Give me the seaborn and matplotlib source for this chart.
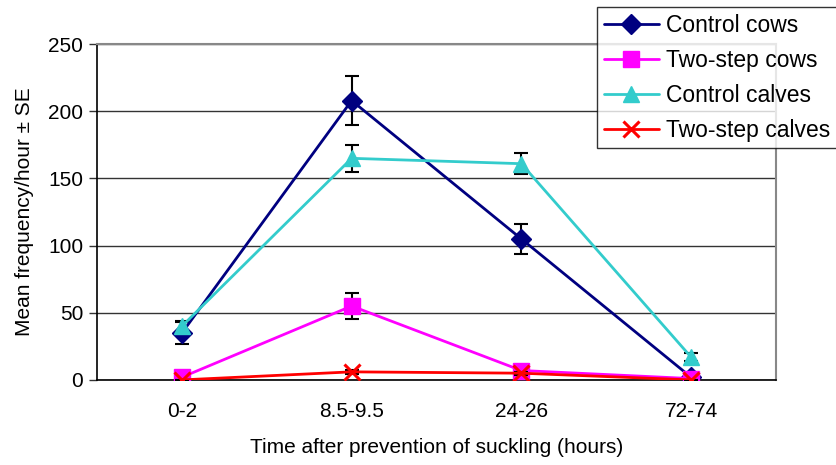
import matplotlib.pyplot as plt
import seaborn as sns
import pandas as pd

# Data
times = ["0-2", "8.5-9.5", "24-26", "72-74"]
series_names = ["Control cows", "Two-step cows", "Control calves", "Two-step calves"]
control_cows = [35, 208, 105, 2]
control_cows_se = [8, 18, 11, 1]
twostep_cows = [2, 55, 7, 1]
twostep_cows_se = [1, 10, 2, 0.5]
control_calves = [40, 165, 161, 17]
control_calves_se = [4, 10, 8, 3]
twostep_calves = [0, 6, 5, 0]
twostep_calves_se = [0.3, 1.5, 1, 0.2]

values = [control_cows, twostep_cows, control_calves, twostep_calves]
errors = [control_cows_se, twostep_cows_se, control_calves_se, twostep_calves_se]

df = pd.DataFrame({
    "time": times * 4,
    "series": [s for s in series_names for _ in times],
    "value": [v for vals in values for v in vals],
})

colors = ["#000080", "#FF00FF", "#33CCCC", "#FF0000"]
markers = ["D", "s", "^", "x"]
msizes = [10, 11, 12, 11]

sns.set_theme(style="white")
plt.rcParams['font.family'] = ['Liberation Sans', 'DejaVu Sans']
plt.rcParams['text.color'] = 'black'
plt.rcParams['axes.labelcolor'] = 'black'
plt.rcParams['xtick.color'] = 'black'
plt.rcParams['ytick.color'] = 'black'

fig = plt.figure(figsize=(8.37, 4.65), dpi=100)
ax = fig.add_axes([0.116, 0.183, 0.811, 0.722])

for i, name in enumerate(series_names):
    sub = df[df["series"] == name]
    ax.errorbar(sub["time"], sub["value"], yerr=errors[i], fmt="none",
                ecolor="black", elinewidth=1.5, capsize=5, capthick=1.5, zorder=2 + i)
    mk = markers[i]
    sns.lineplot(data=sub, x="time", y="value", ax=ax, color=colors[i],
                 marker=mk, markersize=msizes[i], markeredgecolor=colors[i],
                 markeredgewidth=2.2 if mk == "x" else 1, linewidth=2,
                 label=name, sort=False, zorder=2.5 + i)

ax.set_xlim(-0.5, 3.5)
ax.set_ylim(0, 250)
ax.set_yticks([0, 50, 100, 150, 200, 250])
ax.yaxis.grid(True, color="#333333", linewidth=1)
ax.set_axisbelow(True)

# category boundary ticks on x
ax.set_xticks([-0.5, 0.5, 1.5, 2.5, 3.5], minor=True)
ax.tick_params(axis="x", which="minor", direction="out", length=6, width=1, color="#333333")
ax.tick_params(axis="x", which="major", length=0, labelsize=15, pad=16)
ax.tick_params(axis="y", direction="out", length=6, width=1, color="#333333",
               left=True, labelsize=15, pad=4)

for side in ["left", "bottom"]:
    ax.spines[side].set_color("black")
    ax.spines[side].set_linewidth(1.2)
for side in ["top", "right"]:
    ax.spines[side].set_color("#888888")
    ax.spines[side].set_linewidth(1.5)

ax.set_xlabel("Time after prevention of suckling (hours)", fontsize=15, labelpad=12)
ax.set_ylabel("Mean frequency/hour ± SE", fontsize=15, labelpad=10)

ax.get_legend().remove()
handles, labels = ax.get_legend_handles_labels()
leg = fig.legend(handles, labels, loc="upper left", bbox_to_anchor=(597 / 837, 1 - 7 / 465),
                 frameon=True, fancybox=False, fontsize=16.5, handlelength=2.4,
                 borderpad=0.3, labelspacing=0.52, handletextpad=0.3, borderaxespad=0)
leg.get_frame().set_edgecolor("black")
leg.get_frame().set_linewidth(1)
leg.set_zorder(10)

plt.savefig("out.png", dpi=100)
